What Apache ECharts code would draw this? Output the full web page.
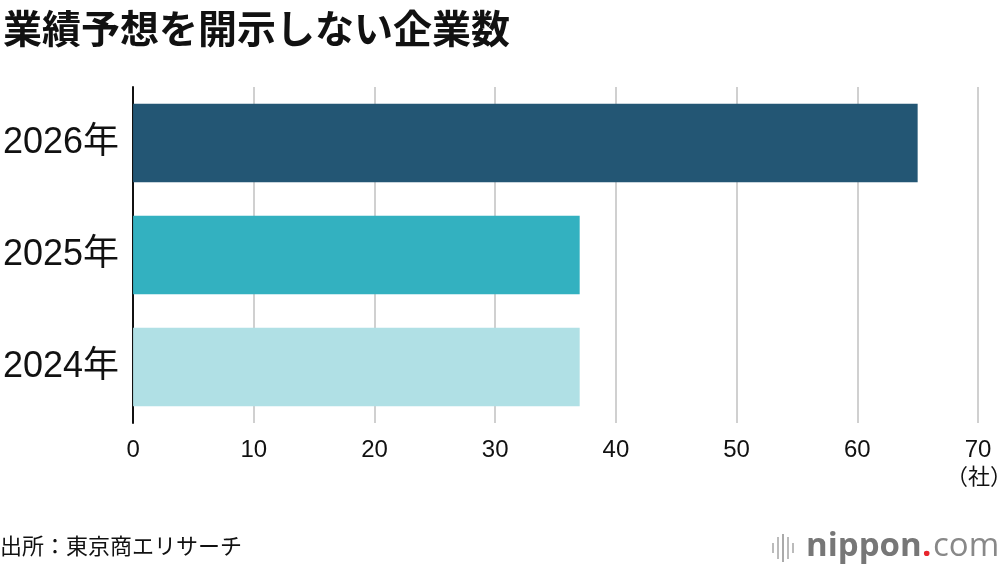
<!DOCTYPE html>
<html>
<head>
<meta charset="utf-8">
<script src="https://cdn.jsdelivr.net/npm/echarts@6/dist/echarts.min.js"></script>
<style>
    html, body { margin: 0; padding: 0; background: #fff; }
    #chart { width: 1000px; height: 570px; }
</style>
</head>
<body>
<div id="chart"></div>
<script>
var years = ['2024年', '2025年', '2026年'];
var companies = [37, 37, 65];
var barColors = ['#b0e0e5', '#33b1c0', '#235674'];
var xTicks = [0, 10, 20, 30, 40, 50, 60, 70];

var fontJP = '"Liberation Sans", "Noto Sans CJK JP", sans-serif';

var barData = companies.map(function (v, i) {
    return {value: v, itemStyle: {color: barColors[i]}};
});

var option = {
    animation: false,
    backgroundColor: '#fff',
    title: {
        text: '業績予想を開示しない企業数',
        left: -2,
        top: 4,
        textStyle: {
            fontFamily: '"Noto Sans CJK JP", sans-serif',
            fontSize: 39,
            fontWeight: 'bold',
            color: '#111'
        }
    },
    grid: {
        left: 133,
        right: 22,
        top: 87,
        bottom: 147
    },
    xAxis: {
        type: 'value',
        min: xTicks[0],
        max: xTicks[xTicks.length - 1],
        interval: 10,
        axisLine: {show: false},
        axisTick: {show: false},
        axisLabel: {
            fontFamily: fontJP,
            fontSize: 24,
            color: '#111',
            margin: 15
        },
        splitLine: {
            show: true,
            lineStyle: {color: '#d0d0d0', width: 2}
        }
    },
    yAxis: {
        type: 'category',
        data: years,
        axisLine: {show: true, lineStyle: {color: '#111', width: 2}},
        axisTick: {show: false},
        axisLabel: {
            fontFamily: fontJP,
            fontSize: 36,
            color: '#111',
            margin: 14
        }
    },
    series: [
        {
            name: '企業数',
            type: 'bar',
            data: barData,
            barCategoryGap: '30%'
        }
    ],
    graphic: [
        {
            type: 'text',
            left: 946,
            top: 465,
            style: {
                text: '（社）',
                font: '22px "Noto Sans CJK JP", sans-serif',
                fill: '#111'
            }
        },
        {
            type: 'text',
            left: 0,
            top: 535,
            style: {
                text: '出所：東京商エリサーチ',
                font: '22px "Noto Sans CJK JP", sans-serif',
                fill: '#111'
            }
        },
        {
            type: 'group',
            left: 772,
            top: 530,
            children: [
                {type: 'rect', shape: {x: 0, y: 13, width: 2, height: 10}, style: {fill: '#bbb'}},
                {type: 'rect', shape: {x: 5, y: 7, width: 2, height: 22}, style: {fill: '#bbb'}},
                {type: 'rect', shape: {x: 10, y: 4, width: 2, height: 28}, style: {fill: '#aaa'}},
                {type: 'rect', shape: {x: 15, y: 7, width: 2, height: 22}, style: {fill: '#bbb'}},
                {type: 'rect', shape: {x: 20, y: 13, width: 2, height: 10}, style: {fill: '#bbb'}},
                {
                    type: 'text',
                    x: 34,
                    y: 0,
                    style: {
                        text: 'nippon',
                        font: 'bold 33px "Open Sans", sans-serif',
                        fill: '#777'
                    }
                },
                {
                    type: 'text',
                    x: 150,
                    y: 0,
                    style: {
                        text: '.',
                        font: 'bold 33px "Open Sans", sans-serif',
                        fill: '#e8262d'
                    }
                },
                {
                    type: 'text',
                    x: 161,
                    y: 0,
                    style: {
                        text: 'com',
                        font: '33px "Open Sans", sans-serif',
                        fill: '#888'
                    }
                }
            ]
        }
    ]
};

var chart = echarts.init(document.getElementById('chart'));
chart.setOption(option);
</script>
</body>
</html>
